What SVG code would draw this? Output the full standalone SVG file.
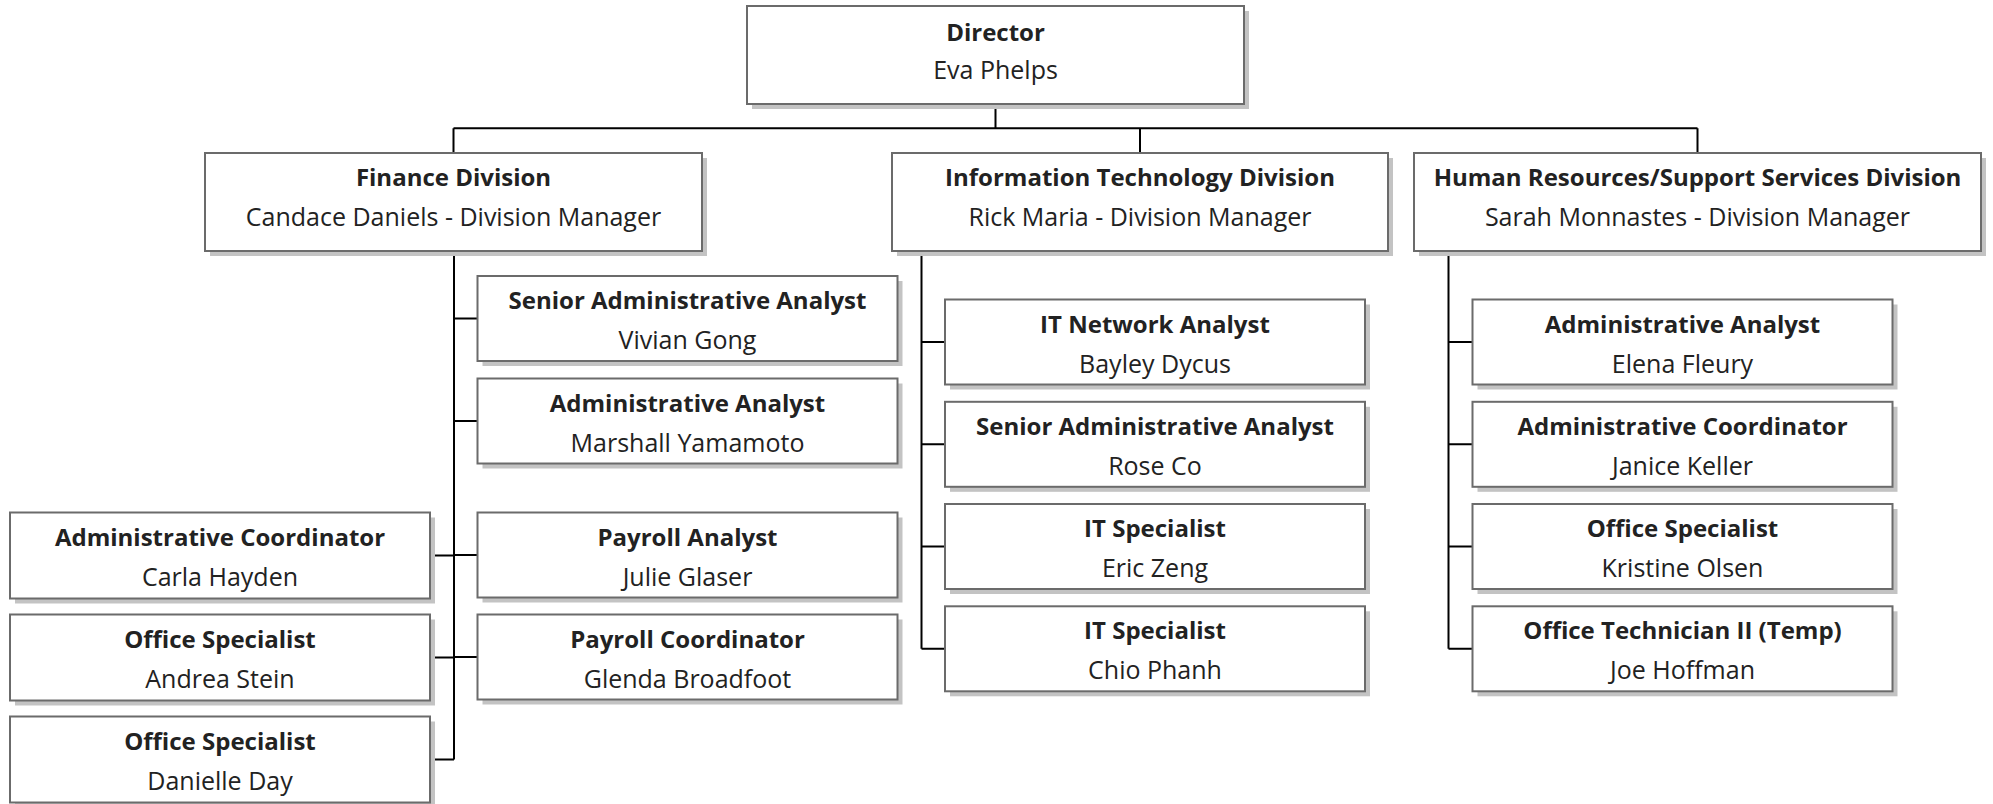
<svg xmlns="http://www.w3.org/2000/svg" width="1993" height="804" viewBox="0 0 1993 804">
<style>
.box{fill:#ffffff;stroke:#6b6b6b;stroke-width:2}
.sh{fill:#c3c3c3}
.t{font-family:"Open Sans","Liberation Sans",sans-serif;font-size:24px;font-weight:bold;fill:#222;text-anchor:middle}
.n{font-family:"Open Sans","Liberation Sans",sans-serif;font-size:25px;fill:#222;text-anchor:middle}
.c{fill:none;stroke:#000;stroke-width:2}
</style>
<rect width="1993" height="804" fill="#ffffff"/>
<g id="connectors">
<path class="c" d="M995.5 104 V128.3 M453.5 128.3 H1697.5 M453.5 128.3 V153 M1140 128.3 V153 M1697.5 128.3 V153"/>
<path class="c" d="M454 251 V759.5 M454 318.5 H477.5 M454 421 H477.5 M454 555 H477.5 M454 657 H477.5 M430 555.5 H454 M430 657.5 H454 M430 759.5 H454"/>
<path class="c" d="M921.5 251 V648.8 M921.5 342 H945 M921.5 444.3 H945 M921.5 546.5 H945 M921.5 648.8 H945"/>
<path class="c" d="M1448.5 251 V648.8 M1448.5 342 H1472.5 M1448.5 444.3 H1472.5 M1448.5 546.5 H1472.5 M1448.5 648.8 H1472.5"/>
</g>
<g id="director"><rect class="sh" x="752" y="11" width="497" height="98"/><rect class="box" x="747" y="6" width="497" height="98"/><text class="t" x="995.5" y="40.5">Director</text><text class="n" x="995.5" y="79">Eva Phelps</text></g>
<g id="finance"><rect class="sh" x="210" y="158" width="497" height="98"/><rect class="box" x="205" y="153" width="497" height="98"/><text class="t" x="453.5" y="186">Finance Division</text><text class="n" x="453.5" y="226">Candace Daniels - Division Manager</text></g>
<g id="it"><rect class="sh" x="897" y="158" width="496" height="98"/><rect class="box" x="892" y="153" width="496" height="98"/><text class="t" x="1140" y="186">Information Technology Division</text><text class="n" x="1140" y="226">Rick Maria - Division Manager</text></g>
<g id="hr"><rect class="sh" x="1419" y="158" width="567" height="98"/><rect class="box" x="1414" y="153" width="567" height="98"/><text class="t" x="1697.5" y="186">Human Resources/Support Services Division</text><text class="n" x="1697.5" y="226">Sarah Monnastes - Division Manager</text></g>

<g id="fin-senior"><rect class="sh" x="482.5" y="281" width="420" height="85"/><rect class="box" x="477.5" y="276" width="420" height="85"/><text class="t" x="687.5" y="309">Senior Administrative Analyst</text><text class="n" x="687.5" y="349">Vivian Gong</text></g>
<g id="fin-analyst"><rect class="sh" x="482.5" y="383.5" width="420" height="85"/><rect class="box" x="477.5" y="378.5" width="420" height="85"/><text class="t" x="687.5" y="411.5">Administrative Analyst</text><text class="n" x="687.5" y="451.5">Marshall Yamamoto</text></g>
<g id="fin-payroll-analyst"><rect class="sh" x="482.5" y="517.5" width="420" height="85"/><rect class="box" x="477.5" y="512.5" width="420" height="85"/><text class="t" x="687.5" y="545.5">Payroll Analyst</text><text class="n" x="687.5" y="585.5">Julie Glaser</text></g>
<g id="fin-payroll-coord"><rect class="sh" x="482.5" y="619.5" width="420" height="85"/><rect class="box" x="477.5" y="614.5" width="420" height="85"/><text class="t" x="687.5" y="647.5">Payroll Coordinator</text><text class="n" x="687.5" y="687.5">Glenda Broadfoot</text></g>
<g id="fin-admin-coord"><rect class="sh" x="15" y="517.5" width="420" height="86"/><rect class="box" x="10" y="512.5" width="420" height="86"/><text class="t" x="220" y="545.5">Administrative Coordinator</text><text class="n" x="220" y="585.5">Carla Hayden</text></g>
<g id="fin-office-1"><rect class="sh" x="15" y="619.5" width="420" height="86"/><rect class="box" x="10" y="614.5" width="420" height="86"/><text class="t" x="220" y="647.5">Office Specialist</text><text class="n" x="220" y="687.5">Andrea Stein</text></g>
<g id="fin-office-2"><rect class="sh" x="15" y="721.5" width="420" height="86"/><rect class="box" x="10" y="716.5" width="420" height="86"/><text class="t" x="220" y="749.5">Office Specialist</text><text class="n" x="220" y="789.5">Danielle Day</text></g>

<g id="it-network"><rect class="sh" x="950" y="304.5" width="420" height="85"/><rect class="box" x="945" y="299.5" width="420" height="85"/><text class="t" x="1155" y="332.5">IT Network Analyst</text><text class="n" x="1155" y="372.5">Bayley Dycus</text></g>
<g id="it-senior"><rect class="sh" x="950" y="406.8" width="420" height="85"/><rect class="box" x="945" y="401.8" width="420" height="85"/><text class="t" x="1155" y="434.8">Senior Administrative Analyst</text><text class="n" x="1155" y="474.8">Rose Co</text></g>
<g id="it-spec-1"><rect class="sh" x="950" y="509" width="420" height="85"/><rect class="box" x="945" y="504" width="420" height="85"/><text class="t" x="1155" y="537">IT Specialist</text><text class="n" x="1155" y="577">Eric Zeng</text></g>
<g id="it-spec-2"><rect class="sh" x="950" y="611.3" width="420" height="85"/><rect class="box" x="945" y="606.3" width="420" height="85"/><text class="t" x="1155" y="639.3">IT Specialist</text><text class="n" x="1155" y="679.3">Chio Phanh</text></g>

<g id="hr-analyst"><rect class="sh" x="1477.5" y="304.5" width="420" height="85"/><rect class="box" x="1472.5" y="299.5" width="420" height="85"/><text class="t" x="1682.5" y="332.5">Administrative Analyst</text><text class="n" x="1682.5" y="372.5">Elena Fleury</text></g>
<g id="hr-coord"><rect class="sh" x="1477.5" y="406.8" width="420" height="85"/><rect class="box" x="1472.5" y="401.8" width="420" height="85"/><text class="t" x="1682.5" y="434.8">Administrative Coordinator</text><text class="n" x="1682.5" y="474.8">Janice Keller</text></g>
<g id="hr-office"><rect class="sh" x="1477.5" y="509" width="420" height="85"/><rect class="box" x="1472.5" y="504" width="420" height="85"/><text class="t" x="1682.5" y="537">Office Specialist</text><text class="n" x="1682.5" y="577">Kristine Olsen</text></g>
<g id="hr-tech"><rect class="sh" x="1477.5" y="611.3" width="420" height="85"/><rect class="box" x="1472.5" y="606.3" width="420" height="85"/><text class="t" x="1682.5" y="639.3">Office Technician II (Temp)</text><text class="n" x="1682.5" y="679.3">Joe Hoffman</text></g>
</svg>
